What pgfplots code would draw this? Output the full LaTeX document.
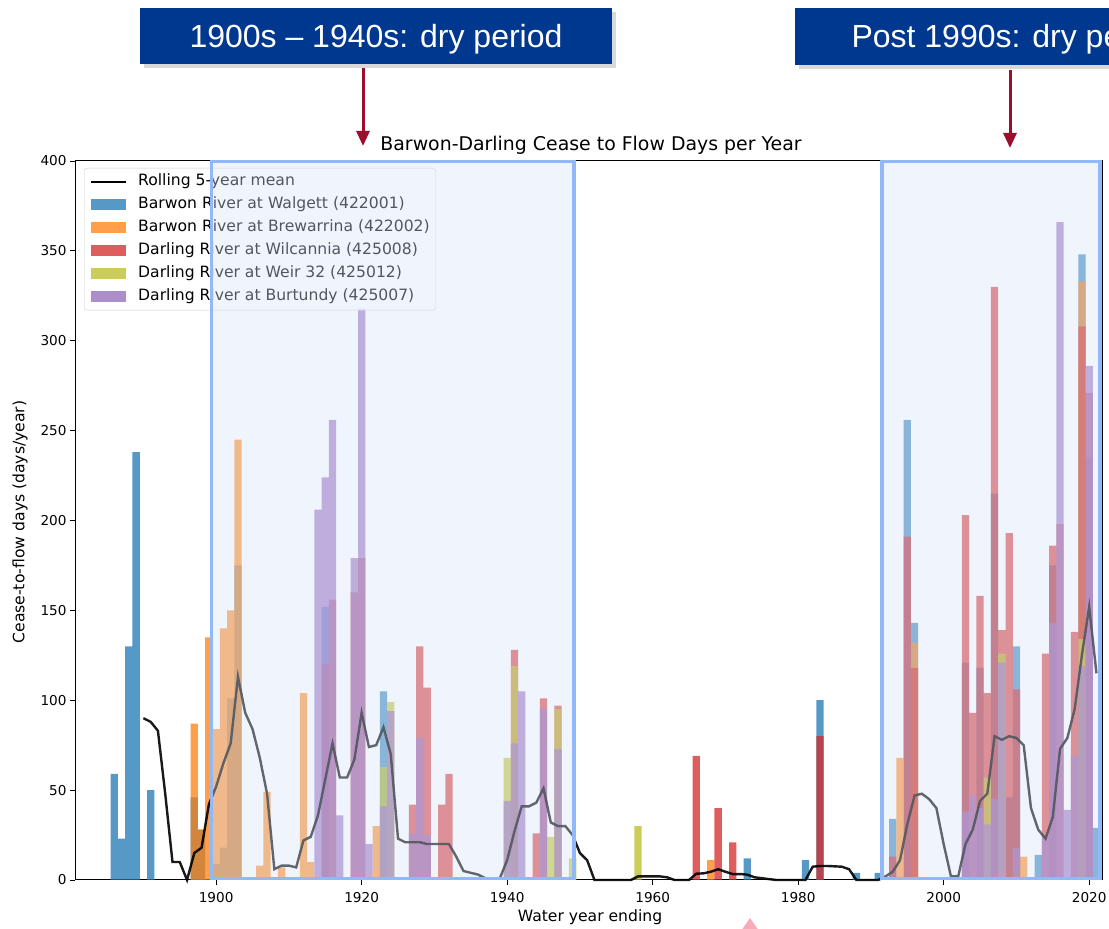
\documentclass[border=0pt]{standalone}
\usepackage{fontspec}
\setmainfont{DejaVu Sans}
\newfontfamily\bannerfont{Liberation Sans}
\usepackage{pgfplots}
\pgfplotsset{compat=1.18}
\usetikzlibrary{shadows,arrows.meta}
\definecolor{tabblue}{RGB}{31,119,180}
\definecolor{taborange}{RGB}{255,127,14}
\definecolor{tabred}{RGB}{214,39,40}
\definecolor{tabolive}{RGB}{188,189,34}
\definecolor{tabpurple}{RGB}{148,103,189}
\definecolor{boxline}{RGB}{145,185,250}
\definecolor{boxfill}{RGB}{216,229,250}
\definecolor{bannerblue}{RGB}{0,56,143}
\definecolor{arrowred}{RGB}{155,15,45}
\definecolor{pinktri}{RGB}{248,170,185}
\pgfplotsset{
  patchlegend/.style={legend image code/.code={
    \fill[#1, fill opacity=0.75, draw=none, sharp corners] (0pt,-5.5pt) rectangle (35pt,5.5pt);
    \path[draw=none, fill=none] (0pt,0pt) -- (47pt,0pt);}},
}
\begin{document}
\begin{tikzpicture}[x=1pt,y=1pt]
\path[use as bounding box] (0,0) rectangle (1109,929);
\clip (0,0) rectangle (1109,929);
\fill[white] (0,0) rectangle (1109,929);
\begin{axis}[
  at={(75pt,49pt)}, anchor=south west, scale only axis,
  width=1028pt, height=719pt,
  xmin=1880.6, xmax=2021.9, ymin=0, ymax=400,
  xtick={1900,1920,...,2020}, ytick={0,50,...,400},
  xtick pos=bottom, ytick pos=left, tick align=outside,
  major tick length=5pt,
  tick style={black, line width=0.9pt},
  axis line style={black, line width=1pt},
  ticklabel style={font=\fontsize{13.6}{16}\selectfont},
  xticklabel style={yshift=-4pt},
  /pgf/number format/assume math mode=true,
  /pgf/number format/1000 sep={},
  clip=false,
  legend cell align=left,
  legend style={at={(0,1)}, anchor=north west, xshift=9pt, yshift=-7pt,
    draw=black!20, rounded corners=3pt, fill=white, fill opacity=0.8, text opacity=1,
    font=\fontsize{15.6}{18}\selectfont, inner xsep=6pt, inner ysep=6pt,
    nodes={inner sep=0pt, text height=11pt, text depth=4pt},
    row sep=8pt},
]
\addlegendimage{legend image code/.code={\draw[black, line width=2pt, sharp corners] (0pt,0pt) -- (35pt,0pt); \path[draw=none, fill=none] (0pt,0pt) -- (47pt,0pt);}}
\addlegendentry{Rolling 5-year mean}
\addlegendimage{patchlegend=tabblue}
\addlegendentry{Barwon River at Walgett (422001)}
\addlegendimage{patchlegend=taborange}
\addlegendentry{Barwon River at Brewarrina (422002)}
\addlegendimage{patchlegend=tabred}
\addlegendentry{Darling River at Wilcannia (425008)}
\addlegendimage{patchlegend=tabolive}
\addlegendentry{Darling River at Weir 32 (425012)}
\addlegendimage{patchlegend=tabpurple}
\addlegendentry{Darling River at Burtundy (425007)}

\addplot[ybar, bar width=1, bar shift=0pt, fill=tabblue, fill opacity=0.75, draw=none, forget plot] coordinates {
(1886,59) (1887,23) (1888,130) (1889,238) (1891,50) (1897,46) (1898,28) (1900,9) (1901,18) (1902,101) (1903,175) (1915,152) (1923,105) (1973,12) (1981,11) (1983,100) (1988,4) (1991,4) (1993,34) (1995,256) (1996,143) (2003,121) (2005,118) (2007,215) (2009,46) (2010,130) (2013,14) (2015,175) (2019,348) (2020,235) (2021,29)};
\addplot[ybar, bar width=1, bar shift=0pt, fill=taborange, fill opacity=0.75, draw=none, forget plot] coordinates {
(1897,87) (1898,28) (1899,135) (1900,84) (1901,140) (1902,150) (1903,245) (1906,8) (1907,49) (1909,7) (1912,104) (1913,10) (1922,30) (1968,11) (1994,68) (1996,132) (2011,13) (2019,333)};
\addplot[ybar, bar width=1, bar shift=0pt, fill=tabred, fill opacity=0.75, draw=none, forget plot] coordinates {
(1915,120) (1916,156) (1919,160) (1920,179) (1927,42) (1928,130) (1929,107) (1931,42) (1932,59) (1941,128) (1944,26) (1945,101) (1947,97) (1966,69) (1969,40) (1971,21) (1983,80) (1993,13) (1995,191) (1996,118) (2003,203) (2004,93) (2005,158) (2006,104) (2007,330) (2008,139) (2009,193) (2010,106) (2014,126) (2015,186) (2016,198) (2018,138) (2019,308) (2020,271)};
\addplot[ybar, bar width=1, bar shift=0pt, fill=tabolive, fill opacity=0.75, draw=none, forget plot] coordinates {
(1923,63) (1924,99) (1940,68) (1941,119) (1946,24) (1947,95) (1949,12) (1958,30) (2006,57) (2008,126) (2019,134)};
\addplot[ybar, bar width=1, bar shift=0pt, fill=tabpurple, fill opacity=0.75, draw=none, forget plot] coordinates {
(1914,206) (1915,224) (1916,256) (1917,36) (1919,179) (1920,318) (1921,20) (1923,41) (1924,94) (1927,26) (1928,79) (1929,25) (1940,44) (1941,76) (1942,105) (1945,95) (1947,73) (2003,38) (2004,47) (2005,40) (2006,31) (2007,45) (2008,121) (2010,18) (2014,25) (2015,143) (2016,366) (2017,39) (2018,69) (2019,119) (2020,286)};
\addplot[black, line width=2.4pt, opacity=0.9, forget plot] coordinates {
(1890,90) (1891,88) (1892,83) (1893,48) (1894,10) (1895,10) (1896,0) (1897,15) (1898,18) (1899,42)
(1900,52) (1901,65) (1902,76) (1903,113) (1904,93) (1905,84) (1906,68) (1907,48) (1908,6) (1909,8)
(1910,8) (1911,7) (1912,22) (1913,24) (1914,36) (1915,56) (1916,76) (1917,57) (1918,57) (1919,67)
(1920,93) (1921,74) (1922,75) (1923,85) (1924,70) (1925,23) (1926,21) (1927,21) (1928,21) (1929,20)
(1930,20) (1931,20) (1932,20) (1933,13) (1934,5) (1935,4) (1936,3) (1937,1) (1938,1) (1939,1)
(1940,11) (1941,27) (1942,41) (1943,41) (1944,43) (1945,51) (1946,32) (1947,30) (1948,30) (1949,25)
(1950,15) (1951,11) (1952,0) (1953,0) (1954,0) (1955,0) (1956,0) (1957,0) (1958,2) (1959,2)
(1960,2) (1961,2) (1962,1.5) (1963,0) (1964,0) (1965,0) (1966,3.5) (1967,3.7) (1968,4.6) (1969,6)
(1970,4.6) (1971,3.3) (1972,3.3) (1973,3) (1974,1.5) (1975,1) (1976,0.5) (1977,0) (1978,0) (1979,0)
(1980,0) (1981,0) (1982,7.4) (1983,7.8) (1984,7.8) (1985,7.6) (1986,7.4) (1987,6) (1988,0) (1989,0)
(1990,0) (1991,0) (1992,2) (1993,4.6) (1994,11) (1995,31) (1996,47) (1997,48) (1998,45) (1999,40)
(2000,20) (2001,2) (2002,2) (2003,20) (2004,28) (2005,44) (2006,48) (2007,80) (2008,78) (2009,80)
(2010,79) (2011,75) (2012,40) (2013,28) (2014,23) (2015,35) (2016,73) (2017,79) (2018,95) (2019,125)
(2020,152) (2021,115)};
\end{axis}
% highlight boxes
\draw[boxline, line width=3.5pt, fill=boxfill, fill opacity=0.38] (211.3,50.5) rectangle (573.8,767.5);
\draw[boxline, line width=3.5pt, fill=boxfill, fill opacity=0.38] (882,50.5) rectangle (1100,767.5);
% titles
\node[font=\fontsize{18.9}{22}\selectfont] at (591,784) {Barwon-Darling Cease to Flow Days per Year};
\node[font=\fontsize{15.6}{18}\selectfont] at (590,12) {Water year ending};
\node[font=\fontsize{15.6}{18}\selectfont, rotate=90] at (20,407) {Cease-to-flow days (days/year)};
% banners
\fill[bannerblue, drop shadow={shadow xshift=4pt, shadow yshift=-4pt, opacity=0.3}] (140,865) rectangle (612,921);
\fill[bannerblue, drop shadow={shadow xshift=4pt, shadow yshift=-4pt, opacity=0.3}] (795,864) rectangle (1140,921);
\node[text=white, font=\bannerfont\fontsize{32}{36}\selectfont, anchor=base] at (376,881) {1900s – 1940s: dry period};
\node[text=white, font=\bannerfont\fontsize{32}{36}\selectfont, anchor=base west] at (848,881) {Post 1990s: dry period};
% arrows
\draw[arrowred, line width=3pt, -{Triangle[width=13pt,length=15pt]}] (363,861) -- (363,783);
\draw[arrowred, line width=3pt, -{Triangle[width=13pt,length=15pt]}] (1010,859) -- (1010,781);
% small marker at the bottom
\fill[pinktri] (750,11) -- (741,-2) -- (759,-2) -- cycle;
\end{tikzpicture}
\end{document}
